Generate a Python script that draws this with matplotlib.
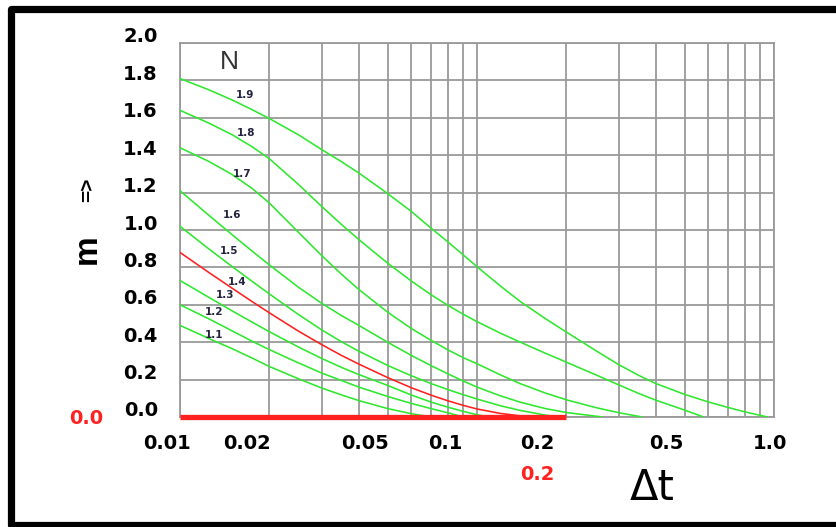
import matplotlib
matplotlib.use("Agg")
from matplotlib import pyplot as plt
from matplotlib.lines import Line2D
from matplotlib.transforms import ScaledTranslation

plt.rcParams["font.family"] = ["DejaVu Sans"]

# curves m(dt) for each N
n_labels = ["1.1", "1.2", "1.3", "1.4", "1.5", "1.6", "1.7", "1.8", "1.9"]

dt_11 = [0.01, 0.0125, 0.015, 0.0175, 0.02, 0.025, 0.03, 0.035, 0.04, 0.05, 0.06, 0.07]
m_11 = [0.49, 0.42, 0.365, 0.315, 0.27, 0.205, 0.155, 0.118, 0.088, 0.045, 0.018, 0.0]

dt_12 = [0.01, 0.0125, 0.015, 0.0175, 0.02, 0.025, 0.03, 0.035, 0.04, 0.05, 0.06, 0.07, 0.08, 0.09]
m_12 = [0.60, 0.525, 0.46, 0.405, 0.36, 0.29, 0.235, 0.195, 0.16, 0.11, 0.073, 0.045, 0.022, 0.0]

dt_13 = [0.01, 0.0125, 0.015, 0.0175, 0.02, 0.025, 0.03, 0.035, 0.04, 0.05, 0.06, 0.07, 0.08, 0.09, 0.1, 0.11]
m_13 = [0.73, 0.64, 0.567, 0.507, 0.456, 0.375, 0.313, 0.265, 0.227, 0.169, 0.118, 0.08, 0.052, 0.03, 0.012, 0.0]

dt_14 = [0.01, 0.0125, 0.015, 0.0175, 0.02, 0.025, 0.03, 0.035, 0.04, 0.05, 0.06, 0.07, 0.08, 0.09, 0.1, 0.12, 0.14, 0.15]
m_14 = [0.88, 0.773, 0.688, 0.617, 0.557, 0.46, 0.387, 0.329, 0.283, 0.211, 0.157, 0.117, 0.086, 0.062, 0.043, 0.019, 0.006, 0.0]

dt_15 = [0.01, 0.0125, 0.015, 0.0175, 0.02, 0.025, 0.03, 0.035, 0.04, 0.05, 0.06, 0.07, 0.08, 0.09, 0.1, 0.12, 0.14, 0.17, 0.19]
m_15 = [1.02, 0.899, 0.804, 0.725, 0.658, 0.549, 0.466, 0.402, 0.352, 0.276, 0.221, 0.179, 0.146, 0.119, 0.096, 0.06, 0.035, 0.01, 0.0]

dt_16 = [0.01, 0.0125, 0.015, 0.0175, 0.02, 0.025, 0.03, 0.035, 0.04, 0.05, 0.06, 0.07, 0.08, 0.09, 0.1, 0.12, 0.14, 0.17, 0.2, 0.23, 0.265]
m_16 = [1.21, 1.079, 0.974, 0.887, 0.813, 0.695, 0.608, 0.542, 0.49, 0.40, 0.33, 0.275, 0.23, 0.192, 0.16, 0.113, 0.079, 0.045, 0.024, 0.012, 0.0]

dt_17 = [0.01, 0.0125, 0.015, 0.0175, 0.02, 0.025, 0.03, 0.035, 0.04, 0.05, 0.06, 0.07, 0.08, 0.09, 0.1, 0.12, 0.14, 0.17, 0.2, 0.25, 0.3, 0.36]
m_17 = [1.44, 1.367, 1.296, 1.222, 1.144, 0.989, 0.863, 0.763, 0.682, 0.561, 0.474, 0.41, 0.358, 0.317, 0.285, 0.225, 0.178, 0.128, 0.092, 0.051, 0.023, 0.0]

dt_18 = [0.01, 0.0125, 0.015, 0.0175, 0.02, 0.025, 0.03, 0.035, 0.04, 0.05, 0.06, 0.07, 0.08, 0.09, 0.1, 0.12, 0.14, 0.17, 0.2, 0.25, 0.3, 0.35, 0.4, 0.5, 0.58]
m_18 = [1.64, 1.572, 1.509, 1.445, 1.381, 1.245, 1.126, 1.029, 0.949, 0.823, 0.728, 0.654, 0.596, 0.549, 0.51, 0.448, 0.40, 0.341, 0.293, 0.227, 0.172, 0.126, 0.09, 0.037, 0.0]

dt_19 = [0.01, 0.0125, 0.015, 0.0175, 0.02, 0.025, 0.03, 0.035, 0.04, 0.05, 0.06, 0.07, 0.08, 0.09, 0.1, 0.12, 0.14, 0.17, 0.2, 0.25, 0.3, 0.35, 0.4, 0.5, 0.6, 0.7, 0.8, 0.95]
m_19 = [1.81, 1.75, 1.695, 1.643, 1.596, 1.51, 1.43, 1.365, 1.305, 1.195, 1.10, 1.01, 0.935, 0.866, 0.804, 0.70, 0.617, 0.526, 0.454, 0.357, 0.28, 0.223, 0.179, 0.121, 0.081, 0.051, 0.027, 0.0]

curves = [(dt_11, m_11), (dt_12, m_12), (dt_13, m_13), (dt_14, m_14), (dt_15, m_15),
          (dt_16, m_16), (dt_17, m_17), (dt_18, m_18), (dt_19, m_19)]

# where the small N labels sit
label_dt = [0.013, 0.013, 0.0142, 0.0156, 0.0146, 0.0150, 0.0162, 0.0167, 0.0165]
label_m = [0.44, 0.56, 0.65, 0.72, 0.89, 1.08, 1.30, 1.52, 1.72]

x_ticks = [0.01, 0.02, 0.05, 0.1, 0.2, 0.5, 1.0]
x_tick_labels = ["0.01", "0.02", "0.05", "0.1", "0.2", "0.5", "1.0"]
x_label_shift = [-13, -22, -23, -32, -29, -18, -4]  # px, labels sit left of their lines
y_ticks = [0.0, 0.2, 0.4, 0.6, 0.8, 1.0, 1.2, 1.4, 1.6, 1.8, 2.0]

W, H = 837, 527
fig = plt.figure(figsize=(W / 100, H / 100), dpi=100)
ax = fig.add_axes([180 / W, 1 - 417 / H, (774 - 180) / W, (417 - 43) / H])

green = "#2ee82e"
red = "#ff2020"
for i, (xs, ys) in enumerate(curves):
    ax.plot(xs, ys, color=red if n_labels[i] == "1.4" else green, lw=1.15, zorder=3)
    ax.text(label_dt[i], label_m[i], n_labels[i], fontsize=7.5, fontweight="bold",
            color="#23233f", ha="center", va="center", zorder=4)

ax.plot([0.01, 0.2], [0.0, 0.0], color=red, lw=3.8, solid_capstyle="butt", zorder=5, clip_on=False)
ax.text(0.0147, 1.90, "N", fontsize=19, color="#333333", ha="center", va="center",
        family="Liberation Sans")

ax.set_xscale("log")
ax.set_xlim(0.01, 1.0)
ax.set_ylim(0.0, 2.0)
ax.set_xticks(x_ticks)
ax.set_xticks([k * d for d in (0.01, 0.1) for k in range(2, 10)], minor=True)
ax.set_xticklabels(x_tick_labels, fontsize=14, fontweight="bold")
ax.set_xticklabels([], minor=True)
ax.set_yticks(y_ticks)
ax.set_yticklabels(["%.1f" % v for v in y_ticks], fontsize=14, fontweight="bold")
ax.tick_params(which="both", length=0)
ax.tick_params(axis="x", pad=12)
ax.tick_params(axis="y", pad=16)
for lab, dx in zip(ax.get_xticklabels(), x_label_shift):
    lab.set_transform(lab.get_transform() + ScaledTranslation(dx / 100, 0, fig.dpi_scale_trans))
for lab in ax.get_yticklabels():
    lab.set_transform(lab.get_transform() + ScaledTranslation(0, 8 / 100, fig.dpi_scale_trans))

ax.grid(True, which="both", color="#9a9a9a", lw=1.3)
for s in ax.spines.values():
    s.set_color("#9a9a9a")
    s.set_linewidth(1.3)

# texts around the plot
fig.text(86 / W, 1 - 418 / H, "0.0", color=red, fontsize=14, fontweight="bold", ha="center", va="center")
fig.text(537 / W, 1 - 475 / H, "0.2", color=red, fontsize=14, fontweight="bold", ha="center", va="center")
fig.text(652 / W, 1 - 488 / H, "\u0394t", color="black", fontsize=30, ha="center", va="center")
fig.text(87 / W, 1 - 249 / H, "m", fontsize=24, fontweight="bold", rotation=90, ha="center", va="center",
         family="Liberation Sans")
fig.text(88 / W, 1 - 190 / H, "=>", fontsize=15, fontweight="bold", rotation=90, ha="center", va="center",
         family="Liberation Sans")

# thick black frame, cut off on the right
frame_x = [860 / W, 11.5 / W, 11.5 / W, 860 / W]
frame_y = [1 - 9 / H, 1 - 9 / H, 1 - 525 / H, 1 - 525 / H]
fig.add_artist(Line2D(frame_x, frame_y, color="black", lw=5.2, transform=fig.transFigure))

plt.savefig("out.png", dpi=100)
plt.close()
